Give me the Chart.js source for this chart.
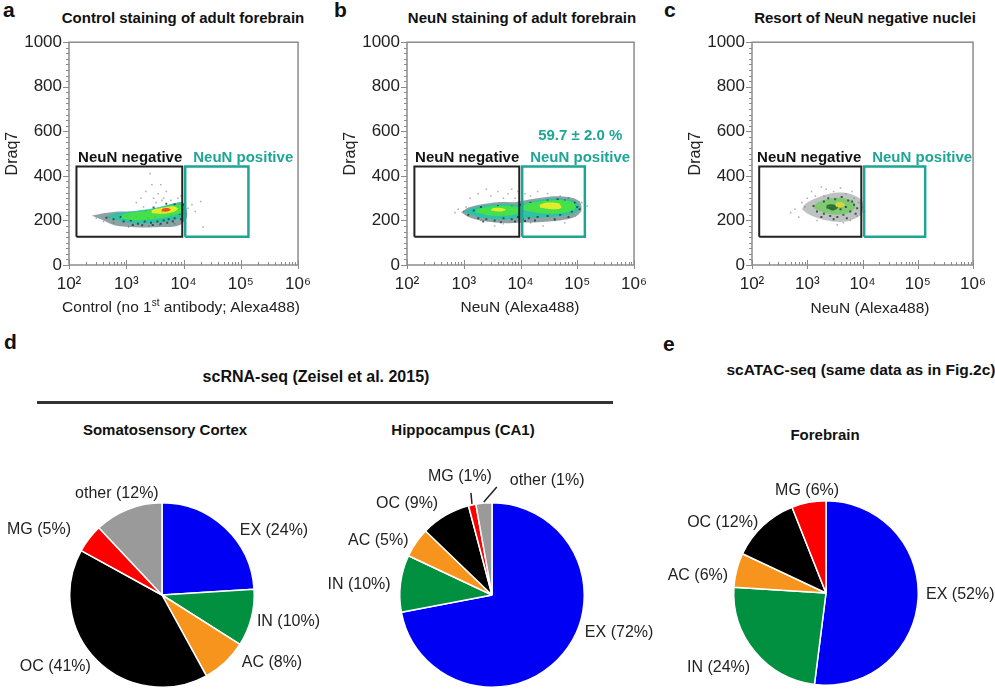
<!DOCTYPE html>
<html lang="en">
<head>
<meta charset="utf-8">
<title>NeuN sorting and cell type composition</title>
<script src="https://cdn.jsdelivr.net/npm/chart.js@4.4.1/dist/chart.umd.min.js"></script>
<style>
  html, body { margin: 0; padding: 0; background: #fff; }
  body { position: relative; width: 995px; height: 691px; overflow: hidden;
         font-family: "Liberation Sans", Arial, Helvetica, sans-serif; color: #222; }
  canvas { position: absolute; }
  .txt { position: absolute; line-height: 1; white-space: nowrap; }
  .letter { font-weight: bold; font-size: 21px; color: #111; }
  .head { font-weight: bold; font-size: 15px; transform: translateX(-50%); color: #111; }
  .big { font-size: 16px; }
  .axt { font-size: 15.5px; transform: translateX(-50%); }
  sup { font-size: 10px; line-height: 0; vertical-align: 6px; }
  .rule { position: absolute; left: 37px; top: 401px; width: 576px; height: 3px; background: #333; }
</style>
</head>
<body>

<div class="txt letter" style="left:3px;top:-1px">a</div>
<div class="txt letter" style="left:334px;top:-1px">b</div>
<div class="txt letter" style="left:664px;top:-1px">c</div>
<div class="txt letter" style="left:4px;top:331px">d</div>
<div class="txt letter" style="left:663px;top:333px">e</div>

<div class="txt head" style="left:183px;top:10px">Control staining of adult forebrain</div>
<div class="txt head" style="left:522px;top:10px">NeuN staining of adult forebrain</div>
<div class="txt head" style="left:865px;top:10px">Resort of NeuN negative nuclei</div>

<canvas id="flowA" width="320" height="275" style="left:0px;top:25px"></canvas>
<canvas id="flowB" width="318" height="275" style="left:338px;top:25px"></canvas>
<canvas id="flowC" width="312" height="275" style="left:683px;top:25px"></canvas>

<div class="txt axt" style="left:181px;top:299px">Control (no 1<sup>st</sup> antibody; Alexa488)</div>
<div class="txt axt" style="left:520px;top:299px">NeuN (Alexa488)</div>
<div class="txt axt" style="left:870px;top:300px">NeuN (Alexa488)</div>

<div class="txt head big" style="left:316px;top:369px">scRNA-seq (Zeisel et al. 2015)</div>
<div class="rule"></div>
<div class="txt head" style="left:861px;top:362px;font-size:15.5px">scATAC-seq (same data as in Fig.2c)</div>

<div class="txt head" style="left:165px;top:422px">Somatosensory Cortex</div>
<div class="txt head" style="left:463px;top:422px">Hippocampus (CA1)</div>
<div class="txt head" style="left:825px;top:427px">Forebrain</div>

<canvas id="pieCortex" width="330" height="246" style="left:0px;top:445px"></canvas>
<canvas id="pieHippo" width="340" height="246" style="left:320px;top:445px"></canvas>
<canvas id="pieFore" width="335" height="246" style="left:660px;top:445px"></canvas>

<script>
// ---------- axes ----------
const xMajorTicks = [1e2, 1e3, 1e4, 1e5, 1e6];
const xTickLabels = ["10\u00b2", "10\u00b3", "10\u2074", "10\u2075", "10\u2076"];
const yTickLabels = [0, 200, 400, 600, 800, 1000];

// ---------- sort gates (Alexa488, Draq7) ----------
const negGateX = [135, 9500];
const posGateX = [10700, 136000];
const gateY = [127, 442];

// ---------- a: control staining ----------
const ctrlSparse = [[900,205],[1300,190],[1800,300],[2200,330],[2600,410],[2800,360],[3000,300],[3300,280],
  [3600,320],[4000,360],[4500,300],[5000,330],[1500,280],[2000,260],[700,230],[500,215],[400,195],[8000,300],
  [9000,310],[12000,255],[14000,270],[16000,240],[20000,285],[22000,170],[11000,230],[6500,200],[2500,175],
  [1100,170],[3800,180],[7000,185],[300,210],[600,190],[4200,290],[6000,290]];
const ctrlDark = [[600,205],[900,195],[1200,200],[1600,185],[2100,195],[2700,190],[3500,195],[4500,200],
  [5500,205],[7000,210],[8500,230],[9500,250],[1000,220],[1500,215],[2400,210],[3200,215],[6000,225],
  [8000,260],[9800,270],[5000,275],[1300,180],[1900,178],[2900,180],[4000,185],[5200,190],[6500,195],
  [800,215],[2200,240],[3000,258],[7000,272],[450,212],[9000,205]];
const ctrlOuter = [[250,221],[400,200],[600,180],[1000,172],[2000,168],[4000,170],[6500,172],[9000,182],
  [11500,215],[11000,262],[9500,282],[7000,278],[4500,262],[2500,248],[1300,240],[750,240],[400,232]];
const ctrlCyan = [[450,215],[800,196],[1500,186],[3000,188],[6000,198],[9500,215],[10500,245],[10000,275],
  [7000,276],[4000,262],[2000,248],[1000,238],[600,230]];
const ctrlGreen = [[800,210],[1500,200],[3000,206],[6000,220],[9500,236],[9500,268],[6500,268],[3500,252],
  [1800,240],[900,228]];
const ctrlYellow = [[2800,232],[4500,230],[7000,240],[8000,255],[6500,264],[4000,256],[2800,246]];
const ctrlRed = [[4100,240],[5200,240],[6000,248],[5500,255],[4300,252]];

// ---------- b: NeuN staining ----------
const neunSparse = [[1000,240],[1100,260],[1300,300],[1800,320],[2500,340],[3000,310],[4000,330],[5000,300],
  [6000,320],[7000,340],[8000,300],[9000,330],[12000,320],[15000,310],[20000,330],[30000,320],[50000,310],
  [70000,300],[120000,280],[150000,265],[2000,200],[5000,185],[15000,190],[40000,200],[700,235],[800,250],
  [25000,175],[60000,190],[3500,175]];
const neunDark = [[1200,225],[1800,210],[2500,205],[3500,200],[5000,210],[7000,205],[9000,215],[11000,205],
  [14000,210],[20000,215],[30000,220],[50000,225],[80000,240],[100000,260],[90000,280],[60000,290],
  [2000,260],[4000,265],[7000,262],[10000,270],[15000,280],[30000,290],[2200,195],[4500,192],[8000,195],
  [12000,198],[18000,200],[40000,205],[70000,215],[1500,245],[45000,295],[110000,250]];
const neunOuter = [[900,237],[1300,212],[2500,195],[5000,188],[10000,190],[20000,192],[50000,200],[90000,215],
  [118000,245],[110000,285],[70000,305],[35000,308],[15000,295],[8000,282],[4000,282],[2000,272],[1200,258]];
const neunCyan = [[1000,238],[2000,212],[4000,204],[8000,208],[14000,210],[30000,214],[60000,222],[100000,240],
  [105000,275],[70000,295],[35000,298],[15000,285],[9000,272],[5000,275],[2500,268],[1300,255]];
const neunGreenNeg = [[1600,238],[3000,222],[6000,222],[9500,235],[9000,258],[5500,266],[3000,262],[1800,252]];
const neunGreenPos = [[11000,248],[22000,232],[50000,232],[90000,250],[85000,280],[50000,292],[22000,286],[11000,268]];
const neunYellowNeg = [[3000,245],[4500,240],[5500,248],[4500,256],[3200,254]];
const neunYellowPos = [[22000,258],[35000,250],[52000,256],[48000,276],[30000,280],[22000,270]];

// ---------- c: resort of NeuN negative ----------
const resortSparse = [[500,235],[700,215],[800,280],[1000,300],[1200,330],[1800,350],[2200,340],[3000,330],
  [4000,345],[5000,320],[7000,300],[8500,280],[10000,260],[11000,240],[6000,200],[3500,180],[1500,200],
  [900,260],[2000,310],[6500,330],[600,250],[1400,310],[8000,220],[4500,190]];
const resortDark = [[1500,240],[2000,230],[2600,220],[3500,215],[4500,225],[6000,240],[7000,270],[5500,290],
  [3200,295],[2000,285],[1300,265],[2800,250],[4000,250],[5000,260],[8000,255],[2400,300],[4200,305],
  [6500,285],[1800,215],[3000,205],[5200,210],[7500,230]];
const resortOuter = [[800,250],[1100,225],[1800,205],[3000,195],[5000,195],[7500,210],[10000,235],[10000,285],
  [7500,310],[4500,325],[2500,320],[1300,295],[900,272]];
const resortGreen = [[1300,255],[2200,232],[3500,226],[5800,236],[7500,262],[6000,292],[3500,302],[2000,292],[1400,274]];
const resortDeep = [[2200,255],[3000,245],[3600,258],[3000,272],[2300,270]];
const resortYellow = [[3300,262],[4300,260],[4800,270],[4200,282],[3300,278]];

// ---------- d / e: cell type composition (%) ----------
const cortexValues = [24, 10, 8, 41, 5, 12];
const cortexText = ["EX (24%)", "IN (10%)", "AC (8%)", "OC (41%)", "MG (5%)", "other (12%)"];
const hippoValues = [72, 10, 5.2, 8.7, 1.3, 2.8];
const hippoText = ["EX (72%)", "IN (10%)", "AC (5%)", "OC (9%)", "MG (1%)", "other (1%)"];
const foreValues = [52, 24, 6, 12, 6];
const foreText = ["EX (52%)", "IN (24%)", "AC (6%)", "OC (12%)", "MG (6%)"];
const cellTypes = ["EX", "IN", "AC", "OC", "MG", "other"];

const pieColors = ["#0000f5", "#009040", "#f7941d", "#000000", "#ff0000", "#9a9a9a"];
const TEAL = "#1fa595";
const FONT = '"Liberation Sans", Arial, sans-serif';

function pts(arr) {
  return arr.map((p) => ({ x: p[0], y: p[1] }));
}

function closed(arr) {
  return pts(arr.concat([arr[0]]));
}

function gateRect(gx, gy) {
  return pts([[gx[0], gy[0]], [gx[1], gy[0]], [gx[1], gy[1]], [gx[0], gy[1]], [gx[0], gy[0]]]);
}

function blob(arr, color, order) {
  return { type: "line", data: closed(arr), backgroundColor: color, borderColor: color, borderWidth: 0,
    pointRadius: 0, fill: "shape", tension: 0.3, order: order };
}

function dots(arr, color, r, order) {
  return { type: "scatter", data: pts(arr), backgroundColor: color, borderWidth: 0,
    pointStyle: "rect", pointRadius: r, order: order };
}

function gate(gx, color, width) {
  return { type: "line", data: gateRect(gx, gateY), borderColor: color, borderWidth: width,
    pointRadius: 0, fill: false, tension: 0, order: 0 };
}

// frame and tick marks of the flow plots, from the scales
const axisFrame = {
  id: "axisFrame",
  afterDraw(chart) {
    const { ctx, chartArea: a, scales } = chart;
    const x = scales.x, y = scales.y;
    ctx.save();
    ctx.strokeStyle = "#8c8c8c";
    ctx.lineWidth = 1.5;
    ctx.strokeRect(a.left, a.top, a.right - a.left, a.bottom - a.top);
    ctx.lineWidth = 1;
    ctx.beginPath();
    y.ticks.forEach((t) => {
      const py = Math.round(y.getPixelForValue(t.value)) + 0.5;
      const len = yTickLabels.includes(t.value) ? 6 : 3;
      ctx.moveTo(a.left - len, py);
      ctx.lineTo(a.left, py);
    });
    x.ticks.forEach((t) => {
      const px = Math.round(x.getPixelForValue(t.value)) + 0.5;
      const major = xMajorTicks.includes(t.value);
      ctx.moveTo(px, a.bottom + (major ? 4 : 0));
      ctx.lineTo(px, a.bottom - (major ? 5 : 3));
    });
    ctx.stroke();
    ctx.restore();
  },
};

// gate names written above the gates
const gateLabels = {
  id: "gateLabels",
  afterDatasetsDraw(chart, args, opts) {
    const { ctx, scales } = chart;
    const x = scales.x, y = scales.y;
    const base = y.getPixelForValue(gateY[1]) - 5;
    ctx.save();
    ctx.font = "bold 15px " + FONT;
    ctx.textBaseline = "alphabetic";
    ctx.fillStyle = "#111";
    ctx.textAlign = "right";
    ctx.fillText(opts.neg, x.getPixelForValue(negGateX[1]), base);
    ctx.fillStyle = TEAL;
    ctx.textAlign = "left";
    const px = x.getPixelForValue(posGateX[0]) + 8;
    ctx.fillText(opts.pos, px, base);
    if (opts.extra) {
      const w = ctx.measureText(opts.pos).width;
      ctx.textAlign = "center";
      ctx.fillText(opts.extra, px + w / 2, base - 22);
    }
    ctx.restore();
  },
};

function makeFlow(id, rightPad, sets, labels) {
  const allTicks = [];
  for (let e = 2; e < 6; e++) {
    for (let m = 1; m < 10; m++) allTicks.push(m * Math.pow(10, e));
  }
  allTicks.push(1e6);
  const yTicks = [];
  for (let v = 0; v <= 1000; v += 25) yTicks.push(v);

  return new Chart(document.getElementById(id), {
    type: "scatter",
    data: { datasets: sets },
    options: {
      responsive: false,
      animation: false,
      devicePixelRatio: 1,
      layout: { padding: { top: 8, right: rightPad, left: 0, bottom: 0 } },
      plugins: { legend: { display: false }, tooltip: { enabled: false }, gateLabels: labels },
      scales: {
        x: {
          type: "logarithmic",
          min: 100,
          max: 1e6,
          afterBuildTicks: (s) => { s.ticks = allTicks.map((v) => ({ value: v })); },
          afterFit: (s) => { s.height = 35; },
          grid: { display: false, drawTicks: false },
          border: { display: false },
          ticks: {
            autoSkip: false,
            maxRotation: 0,
            padding: 9,
            color: "#222",
            font: { size: 17, family: FONT },
            callback: (v) => {
              const i = xMajorTicks.indexOf(v);
              return i >= 0 ? xTickLabels[i] : "";
            },
          },
        },
        y: {
          min: 0,
          max: 1000,
          afterBuildTicks: (s) => { s.ticks = yTicks.map((v) => ({ value: v })); },
          afterFit: (s) => { s.width = 69; },
          grid: { display: false, drawTicks: false },
          border: { display: false },
          ticks: {
            autoSkip: false,
            padding: 7,
            color: "#222",
            font: { size: 17, family: FONT },
            callback: (v) => (yTickLabels.includes(v) ? String(v) : ""),
          },
          title: { display: true, text: "Draq7", color: "#222", font: { size: 16, family: FONT },
            padding: { top: 3, bottom: 0 } },
        },
      },
    },
    plugins: [axisFrame, gateLabels],
  });
}

const SPARSE = "rgba(160,145,160,0.75)";
const DARK = "rgba(30,55,60,0.8)";
const OUTER = "rgba(50,85,90,0.55)";
const CYAN = "rgba(32,200,168,0.85)";
const GREEN = "rgba(72,228,64,0.9)";
const YELLOW = "rgba(232,236,40,0.95)";
const RED = "rgba(240,72,30,0.95)";

makeFlow("flowA", 18, [
  gate(negGateX, "#222", 2),
  gate(posGateX, TEAL, 2.5),
  blob(ctrlRed, RED, 1),
  blob(ctrlYellow, YELLOW, 2),
  blob(ctrlGreen, GREEN, 3),
  dots(ctrlDark, DARK, 1.4, 3.5),
  blob(ctrlCyan, CYAN, 4),
  blob(ctrlOuter, OUTER, 6),
  dots(ctrlSparse, SPARSE, 1.1, 7),
], { neg: "NeuN negative", pos: "NeuN positive" });

makeFlow("flowB", 19, [
  gate(negGateX, "#222", 2),
  gate(posGateX, TEAL, 2.5),
  blob(neunYellowNeg, YELLOW, 2),
  blob(neunYellowPos, YELLOW, 2),
  blob(neunGreenNeg, GREEN, 3),
  blob(neunGreenPos, GREEN, 3),
  dots(neunDark, DARK, 1.4, 3.5),
  blob(neunCyan, CYAN, 4),
  blob(neunOuter, OUTER, 6),
  dots(neunSparse, SPARSE, 1.1, 7),
], { neg: "NeuN negative", pos: "NeuN positive", extra: "59.7 \u00b1 2.0 %" });

makeFlow("flowC", 12, [
  gate(negGateX, "#222", 2),
  gate(posGateX, TEAL, 2.5),
  blob(resortYellow, "rgba(220,214,50,0.95)", 1),
  blob(resortDeep, "rgba(40,105,50,0.9)", 2),
  dots(resortDark, DARK, 1.4, 2.5),
  blob(resortGreen, "rgba(110,205,90,0.75)", 3),
  blob(resortOuter, "rgba(110,120,115,0.45)", 6),
  dots(resortSparse, SPARSE, 1.1, 7),
], { neg: "NeuN negative", pos: "NeuN positive" });

// labels around the pies, placed from each arc's angle
const pieLabels = {
  id: "pieLabels",
  afterDatasetsDraw(chart, args, opts) {
    const { ctx } = chart;
    const meta = chart.getDatasetMeta(0);
    ctx.save();
    ctx.font = "16px " + FONT;
    ctx.fillStyle = "#222";
    ctx.strokeStyle = "#222";
    ctx.textBaseline = "middle";
    meta.data.forEach((arc, i) => {
      const text = opts.text[i];
      const mid = (arc.startAngle + arc.endAngle) / 2;
      const dx = Math.cos(mid), dy = Math.sin(mid);
      const r = arc.outerRadius;
      const c = opts.callout && opts.callout[i];
      if (c) {
        const ex = arc.x + (r + 1) * dx, ey = arc.y + (r + 1) * dy;
        ctx.lineWidth = 1.5;
        ctx.beginPath();
        ctx.moveTo(ex, ey);
        ctx.lineTo(ex + c.line[0], ey + c.line[1]);
        ctx.stroke();
        ctx.textAlign = c.align;
        ctx.fillText(text, ex + c.text[0], ey + c.text[1]);
        return;
      }
      const n = opts.nudge[i] || [0, 0];
      ctx.textAlign = Math.abs(dx) < 0.45 ? "center" : dx > 0 ? "left" : "right";
      ctx.fillText(text, arc.x + (r + 14) * dx + n[0], arc.y + (r + 14) * dy + n[1]);
    });
    ctx.restore();
  },
};

function makePie(id, values, text, pad, nudge, callout) {
  return new Chart(document.getElementById(id), {
    type: "pie",
    data: {
      labels: cellTypes.slice(0, values.length),
      datasets: [{ data: values, backgroundColor: pieColors.slice(0, values.length),
        borderColor: "#fff", borderWidth: 1.5 }],
    },
    options: {
      responsive: false,
      animation: false,
      devicePixelRatio: 1,
      layout: { padding: pad },
      plugins: { legend: { display: false }, tooltip: { enabled: false },
        pieLabels: { text: text, nudge: nudge, callout: callout } },
    },
    plugins: [pieLabels],
  });
}

makePie("pieCortex", cortexValues, cortexText,
  { left: 69, right: 75, top: 57, bottom: 3 },
  [[5, 13], [-8, 0], [7, -10], [4, -4], [-7, 0], [-6, -3]]);

makePie("pieHippo", hippoValues, hippoText,
  { left: 79, right: 75, top: 57, bottom: 3 },
  [[11, -30], [4, 3], [4, 6], [0, 0], [0, 0], [0, 0]],
  [null, null, null, null,
    { line: [-1, -11], text: [-12, -27], align: "center" },
    { line: [13, -15], text: [26, -22], align: "left" }]);

makePie("pieFore", foreValues, foreText,
  { left: 73, right: 76, top: 55, bottom: 5 },
  [[-6, -5], [6, 7], [5, 9], [5, 7], [1, 2]]);
</script>
</body>
</html>
